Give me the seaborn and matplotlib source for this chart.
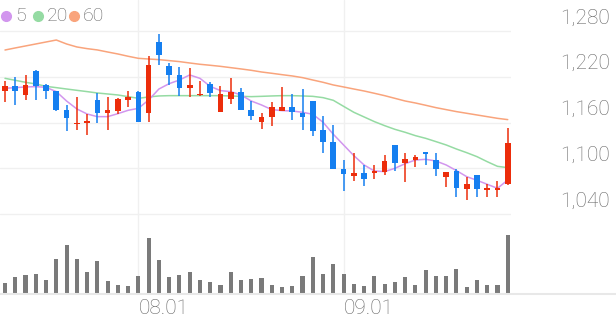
import numpy as np
import pandas as pd
import matplotlib
matplotlib.use("Agg")
import matplotlib.pyplot as plt
import seaborn as sns
from matplotlib.transforms import blended_transform_factory as btf
from matplotlib.lines import Line2D

# ---------------- data ----------------
opens = [1202, 1208, 1196, 1228, 1209, 1202, 1177, 1158, 1159, 1190,
         1172, 1175, 1190, 1200, 1172, 1265, 1234, 1223, 1205, 1196,
         1211, 1174, 1191, 1200, 1177, 1161, 1167, 1175, 1180, 1173,
         1188, 1150, 1135, 1099, 1090, 1094, 1094, 1095, 1130, 1107,
         1111, 1122, 1111, 1089, 1096, 1073, 1092, 1072, 1072, 1080]
highs = [1215, 1220, 1223, 1229, 1210, 1202, 1183, 1193, 1171, 1199,
         1193, 1192, 1202, 1201, 1247, 1276, 1238, 1233, 1231, 1214,
         1213, 1208, 1218, 1205, 1188, 1172, 1187, 1206, 1197, 1204,
         1188, 1168, 1157, 1111, 1120, 1104, 1104, 1118, 1130, 1120,
         1117, 1122, 1120, 1095, 1099, 1089, 1092, 1079, 1083, 1153]
lows = [1187, 1183, 1189, 1190, 1191, 1175, 1149, 1150, 1144, 1160,
        1150, 1171, 1181, 1161, 1161, 1235, 1209, 1195, 1194, 1195,
        1194, 1174, 1184, 1176, 1164, 1151, 1156, 1175, 1164, 1150,
        1142, 1120, 1099, 1070, 1084, 1077, 1086, 1092, 1096, 1082,
        1102, 1104, 1090, 1075, 1062, 1059, 1062, 1062, 1062, 1078]
closes = [1208, 1201, 1209, 1208, 1201, 1176, 1166, 1160, 1162, 1172,
          1176, 1191, 1193, 1161, 1235, 1249, 1222, 1205, 1209, 1198,
          1199, 1197, 1200, 1176, 1168, 1167, 1181, 1180, 1174, 1167,
          1149, 1134, 1099, 1093, 1094, 1086, 1097, 1110, 1107, 1112,
          1115, 1119, 1099, 1095, 1074, 1080, 1073, 1074, 1074, 1133]
volumes = [29, 48, 54, 56, 39, 101, 143, 102, 64, 96,
           35, 25, 21, 51, 165, 100, 47, 53, 62, 39,
           33, 25, 62, 40, 41, 45, 24, 18, 21, 51,
           107, 58, 87, 57, 27, 21, 52, 28, 33, 47,
           23, 70, 50, 51, 71, 19, 38, 24, 25, 173]
ma5 = [1204.9, 1205.8, 1206.7, 1207.1, 1206.2, 1200.6, 1188.3, 1177.9, 1171.3, 1167.8,
       1167.8, 1171.7, 1176.1, 1178.7, 1189.6, 1204.0, 1211.0, 1215.8, 1222.4, 1218.0,
       1207.5, 1201.9, 1200.6, 1196.2, 1188.3, 1183.1, 1177.0, 1175.7, 1175.2, 1173.5,
       1170.9, 1160.4, 1144.7, 1130.7, 1116.7, 1104.5, 1096.6, 1095.8, 1100.1, 1106.2,
       1111.0, 1111.9, 1109.7, 1104.5, 1097.1, 1089.2, 1084.4, 1079.2, 1073.9, 1084.8]
ma20 = [1218.0, 1215.4, 1212.8, 1210.6, 1207.5, 1205.8, 1204.0, 1202.3, 1200.6, 1198.8,
        1197.5, 1196.2, 1194.0, 1191.8, 1193.6, 1194.9, 1195.3, 1195.3, 1195.3, 1195.3,
        1195.3, 1195.3, 1194.9, 1194.4, 1194.0, 1194.4, 1194.9, 1195.3, 1195.3, 1194.9,
        1194.4, 1192.7, 1189.2, 1181.3, 1173.5, 1167.4, 1161.3, 1156.0, 1151.2, 1147.3,
        1142.9, 1139.4, 1135.1, 1130.7, 1125.4, 1120.6, 1115.4, 1108.8, 1102.7, 1101.0]
ma60 = [1255.1, 1257.8, 1260.4, 1263.0, 1265.6, 1268.2, 1263.0, 1259.1, 1256.9, 1255.2,
        1252.5, 1249.9, 1246.9, 1244.2, 1243.3, 1242.5, 1241.2, 1239.9, 1238.1, 1236.4,
        1235.1, 1233.7, 1232.0, 1230.3, 1228.5, 1226.3, 1224.6, 1222.8, 1221.1, 1218.9,
        1215.8, 1212.8, 1209.3, 1206.7, 1204.0, 1201.4, 1198.4, 1195.3, 1191.8, 1188.3,
        1185.7, 1182.7, 1179.6, 1177.0, 1174.4, 1172.2, 1170.0, 1167.8, 1165.6, 1163.9]
price_ticks = [1040, 1100, 1160, 1220, 1280]
date_ticks = {13: "08.01", 33: "09.01"}
legend_labels = ["5", "20", "60"]

# ---------------- style ----------------
sns.set_theme(style="white")
plt.rcParams["font.family"] = ["Roboto", "DejaVu Sans"]

RED = "#ec2d0b"
BLUE = "#157ff0"
GRID = "#f0f0f0"
TXT = "#666666"
MA_COLORS = ["#d296ee", "#95dba3", "#f9a47c"]

W, H = 616, 321
fig = plt.figure(figsize=(W / 100, H / 100), dpi=100)
px_per_unit = 45.8 / 60.0
right_px = 511

ax = fig.add_axes([0, 1 - 230 / H, right_px / W, 230 / H])
axv = fig.add_axes([0, 1 - 293 / H, right_px / W, 63 / H])

n = len(closes)
df = pd.DataFrame({"i": np.arange(n), "open": opens, "high": highs, "low": lows,
                   "close": closes, "vol": volumes, "ma5": ma5, "ma20": ma20, "ma60": ma60})

x0 = -5 / 10.26
x1 = (right_px - 5) / 10.26
top_price = 1280 + 31 / px_per_unit
bot_price = 1280 - 199 / px_per_unit

for a in (ax, axv):
    a.set_xlim(x0, x1)
    for s in a.spines.values():
        s.set_visible(False)
    a.set_xticks([])
    a.set_yticks([])
    a.set_facecolor("none")
    for k in date_ticks:
        a.axvline(k, color=GRID, lw=1.0, zorder=0)

ax.set_ylim(bot_price, top_price)
for t in price_ticks:
    ax.axhline(t, color=GRID, lw=1.0, zorder=0)

# moving averages
for col, c in zip(["ma60", "ma20", "ma5"], [MA_COLORS[2], MA_COLORS[1], MA_COLORS[0]]):
    sns.lineplot(data=df, x="i", y=col, ax=ax, color=c, lw=1.1, zorder=2)
ax.set_xlabel("")
ax.set_ylabel("")

# candles
up = df["close"] >= df["open"]
colors = np.where(up, RED, BLUE)
ax.vlines(df["i"], df["low"], df["high"], colors=colors, lw=1.1, zorder=3)
body_bottom = np.minimum(df["open"], df["close"])
body_h = np.maximum(np.abs(df["close"] - df["open"]), 2.0)
ax.bar(df["i"], body_h, bottom=body_bottom, width=0.55, color=colors, lw=0, zorder=4)
ax.set_xlim(x0, x1)
ax.set_ylim(bot_price, top_price)

# volume
sns.barplot(data=df, x="i", y="vol", ax=axv, color="#7a7a7a", width=0.4,
            saturation=1, linewidth=0, native_scale=True)
axv.set_xlim(x0, x1)
axv.set_ylim(0, 189)
axv.set_xlabel("")
axv.set_ylabel("")
axv.set_xticks([])
axv.set_yticks([])

fig.add_artist(Line2D([0, 1], [1 - 293.5 / H] * 2, transform=fig.transFigure,
                      color="#e8e8e8", lw=1.5))

# right price labels
tr = btf(fig.transFigure, ax.transData)
for t in price_ticks:
    ax.text(610 / W, t + 13 / px_per_unit, f"{t:,}", transform=tr, ha="right",
            va="center", fontsize=15, fontweight="light", color=TXT, clip_on=False)

# date labels
trd = btf(axv.transData, fig.transFigure)
for k, lab in date_ticks.items():
    axv.text(k + 0.05, 1 - 308 / H, lab, transform=trd, ha="left", va="center",
             fontsize=15, fontweight="light", color=TXT, clip_on=False)

# legend
leg_x = [5.7, 37.8, 74.3]
txt_x = [15.5, 46.5, 83.0]
for lx, tx, lab, c in zip(leg_x, txt_x, legend_labels, MA_COLORS):
    fig.add_artist(Line2D([lx / W], [1 - 15.7 / H], transform=fig.transFigure,
                          marker="o", ms=7, color=c, lw=0))
    fig.text(tx / W, 1 - 15.7 / H, lab, ha="left", va="center", fontsize=14,
             fontweight="light", color=TXT)

fig.savefig("out.png", dpi=100)
